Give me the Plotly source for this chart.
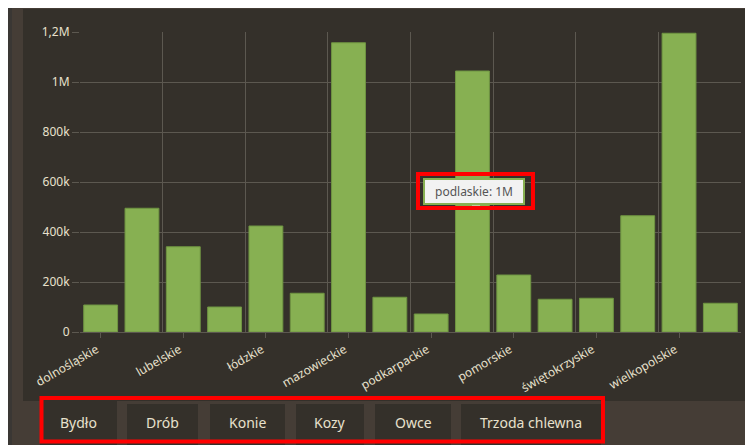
import plotly.graph_objects as go

# ---------------- data ----------------
categories = ["dolnośląskie", "kujawsko-pomorskie", "lubelskie", "lubuskie", "łódzkie",
              "małopolskie", "mazowieckie", "opolskie", "podkarpackie", "podlaskie",
              "pomorskie", "śląskie", "świętokrzyskie", "warmińsko-mazurskie",
              "wielkopolskie", "zachodniopomorskie"]
values = [108000, 495000, 341000, 100000, 424000, 155000, 1157000, 139000, 72000,
          1044000, 228000, 131000, 135000, 465000, 1195000, 115000]
y_tick_values = [0, 200000, 400000, 600000, 800000, 1000000, 1200000]
y_tick_labels = ["0", "200k", "400k", "600k", "800k", "1M", "1,2M"]
button_labels = ["Bydło", "Drób", "Konie", "Kozy", "Owce", "Trzoda chlewna"]
highlighted = "podlaskie"

# ---------------- style / layout ----------------
SW, SH = 753, 445          # screenshot size
OFF = 8                    # page body margin
W, H = SW - OFF, SH - OFF  # figure size
L, R, T, B = 80, 741, 32, 332          # plot-area box in screenshot pixels
PW, PH = R - L, B - T

def px(x):
    return (x - L) / PW

def py(y):
    return (B - y) / PH

PAGE = "#453d36"
PANEL = "#34302a"
GRID = "#5c5850"
TXT = "#e8e1cd"
GREEN = "#87b052"
GREEN_DARK = "#6f9442"
FONT = "Noto Sans"

idx = list(range(len(categories)))
n = len(categories)

fig = go.Figure()
fig.add_trace(go.Bar(
    x=idx, y=values, xaxis="x", yaxis="y",
    marker=dict(color=GREEN, line=dict(color=GREEN_DARK, width=1)),
    hoverinfo="skip", showlegend=False,
))
# invisible copy so that the gridline axis gets drawn
fig.add_trace(go.Bar(
    x=idx, y=values, xaxis="x2", yaxis="y",
    marker=dict(color="rgba(0,0,0,0)", line=dict(width=0)),
    hoverinfo="skip", showlegend=False,
))

shapes = []
shapes.append(dict(type="rect", xref="paper", yref="paper", x0=px(OFF), x1=px(12), y0=py(OFF), y1=py(SH),
                   fillcolor="#3a3734", line=dict(width=0), layer="below"))
# chart panel
shapes.append(dict(type="rect", xref="paper", yref="paper", x0=px(23), x1=px(SW), y0=py(9), y1=py(401),
                   fillcolor=PANEL, line=dict(width=0), layer="below"))

# tab buttons
button_edges = [(40, 117), (127, 198), (210, 285), (296, 364), (375, 451), (461, 601)]
annotations = []
for i, (lab, (x0, x1)) in enumerate(zip(button_labels, button_edges)):
    top = 398 if i == 0 else 404
    shapes.append(dict(type="rect", xref="paper", yref="paper", x0=px(x0), x1=px(x1),
                       y0=py(SH), y1=py(top), fillcolor=PANEL, line=dict(width=0), layer="below"))
    annotations.append(dict(text=lab, xref="paper", yref="paper", x=px((x0 + x1) / 2), y=py(423),
                            xanchor="center", yanchor="middle", showarrow=False,
                            font=dict(family=FONT, size=14, color=TXT)))

# tooltip for highlighted category
hi = categories.index(highlighted)
tip_text = f"{highlighted}: {values[hi] / 1e6:.0f}M"
annotations.append(dict(text=tip_text, xref="x", yref="paper", x=idx[hi], y=py(191.5),
                        xanchor="center", yanchor="middle", xshift=2, showarrow=False,
                        font=dict(family=FONT, size=12, color="#555555"),
                        bgcolor="#f2f2f2", bordercolor=GREEN, borderwidth=2, borderpad=1,
                        width=96, height=21))
# pointer of tooltip
shapes.append(dict(type="path", xref="paper", yref="paper",
                   path=f"M {px(471)} {py(205)} L {px(481)} {py(205)} L {px(476)} {py(211)} Z",
                   fillcolor="#e8e8e8", line=dict(color=GREEN, width=1), layer="above"))

# red highlight boxes
shapes.append(dict(type="rect", xref="paper", yref="paper", x0=px(418), x1=px(533),
                   y0=py(208), y1=py(174), line=dict(color="#ff0000", width=4), layer="above"))
shapes.append(dict(type="rect", xref="paper", yref="paper", x0=px(41.5), x1=px(603),
                   y0=py(441.5), y1=py(398), line=dict(color="#ff0000", width=4), layer="above"))

fig.update_layout(
    width=W, height=H,
    margin=dict(l=L - OFF, r=SW - R, t=T - OFF, b=SH - B, pad=0),
    paper_bgcolor=PAGE, plot_bgcolor="rgba(0,0,0,0)",
    template="none",
    bargap=0.18,
    font=dict(family=FONT, size=12, color=TXT),
    xaxis=dict(range=[-0.5, n - 0.5], tickmode="array", tickvals=idx[::2],
               ticktext=categories[::2], tickangle=-30, ticks="outside", ticklen=5,
               tickcolor=GRID, tickwidth=1, showgrid=False, showline=True, linecolor=GRID,
               linewidth=1, zeroline=False, automargin=False, ticklabelshift=-4,
               tickfont=dict(family=FONT, size=12, color=TXT)),
    xaxis2=dict(range=[-0.5, n - 0.5], overlaying="x", anchor="y", side="bottom",
                tickmode="array",
                tickvals=[i - 0.5 for i in idx[::2]] + [n - 0.5], showticklabels=False,
                ticks="", showgrid=True, gridcolor=GRID, gridwidth=1, showline=False,
                zeroline=False, automargin=False),
    yaxis=dict(range=[0, 1200000], tickmode="array", tickvals=y_tick_values,
               ticktext=y_tick_labels, ticks="outside", ticklen=7, tickcolor=GRID,
               showgrid=True, gridcolor=GRID, gridwidth=1, zeroline=False, showline=False,
               automargin=False, tickfont=dict(family=FONT, size=12, color=TXT)),
    shapes=shapes,
    annotations=annotations,
    showlegend=False,
)

fig.write_html("out.html")
